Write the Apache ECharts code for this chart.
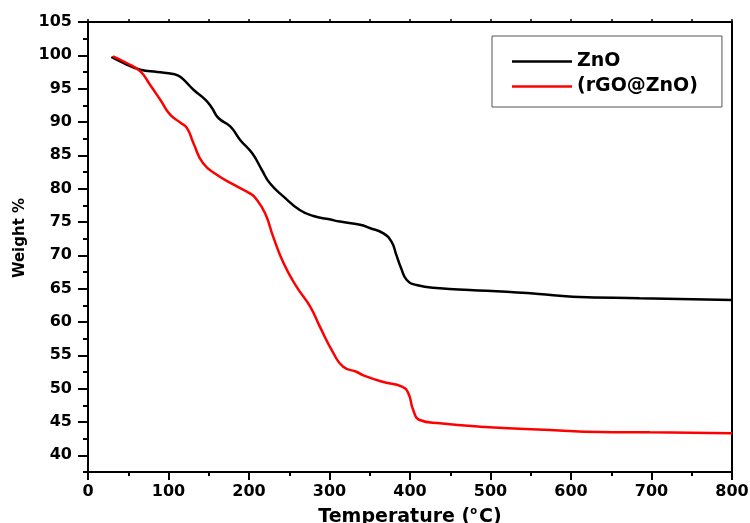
<!DOCTYPE html>
<html>
<head>
<meta charset="utf-8">
<script src="https://cdn.jsdelivr.net/npm/echarts@6/dist/echarts.min.js"></script>
<style>
  html, body { margin: 0; padding: 0; background: #fff; }
  #chart { width: 750px; height: 523px; }
</style>
</head>
<body>
<div id="chart"></div>
<script>
  // TGA data
  const tempZnO = [29, 45, 65, 86, 106, 115, 131, 146, 154, 162, 177, 189, 204, 216, 226, 243, 263, 280, 300, 313, 338, 350, 367, 377, 383, 389, 396, 408, 437, 474, 520, 560, 602, 685, 800];
  const weightZnO = [99.75, 98.8, 97.84, 97.5, 97.2, 96.74, 94.84, 93.33, 92.1, 90.6, 89.3, 87.3, 85.3, 82.8, 80.8, 78.8, 76.8, 75.9, 75.4, 75.06, 74.6, 74.1, 73.3, 72.06, 70.06, 68.06, 66.3, 65.55, 65.06, 64.8, 64.55, 64.2, 63.8, 63.56, 63.3];

  const tempRgo = [31, 48, 65, 77, 90, 102, 115, 123, 131, 143, 160, 181, 201, 208, 220, 230, 243, 259, 276, 288, 305, 317, 334, 342, 367, 390, 398, 404, 412, 437, 487, 574, 636, 698, 800];
  const weightRgo = [99.85, 98.85, 97.6, 95.6, 93.3, 91.1, 89.9, 89.08, 86.8, 83.8, 82.1, 80.6, 79.3, 78.6, 76.3, 72.8, 68.8, 65.3, 62.3, 59.3, 55.3, 53.3, 52.5, 52.0, 51.0, 50.3, 49.3, 46.8, 45.3, 44.8, 44.3, 43.8, 43.5, 43.45, 43.3];

  const seriesNames = ['ZnO', '(rGO@ZnO)'];
  const xMajor = [0, 100, 200, 300, 400, 500, 600, 700, 800];
  const xMinor = [50, 150, 250, 350, 450, 550, 650, 750];
  const yMajor = [40, 45, 50, 55, 60, 65, 70, 75, 80, 85, 90, 95, 100, 105];
  const yMinor = [37.5, 42.5, 47.5, 52.5, 57.5, 62.5, 67.5, 72.5, 77.5, 82.5, 87.5, 92.5, 97.5, 102.5];

  function pairs(xs, ys) {
    let out = [];
    for (let i = 0; i < xs.length; i++) out.push([xs[i], ys[i]]);
    return out;
  }

  let myChart = echarts.init(document.getElementById('chart'));
  const font = 'DejaVu Sans';
  const labelStyle = { color: '#000', fontFamily: font, fontWeight: 'bold', fontSize: 16 };

  let option = {
    animation: false,
    grid: {
      left: 88, right: 18, top: 22, bottom: 51,
      outerBoundsMode: 'none',
      show: true, borderColor: '#000', borderWidth: 2
    },
    legend: {
      orient: 'vertical',
      left: 492, top: 36,
      padding: [16, 24, 11, 20],
      icon: 'rect',
      itemWidth: 60, itemHeight: 2.5, itemGap: 6,
      borderColor: '#555', borderWidth: 1,
      data: seriesNames,
      textStyle: { color: '#000', fontFamily: font, fontWeight: 'bold', fontSize: 19 }
    },
    xAxis: [{
      type: 'value', min: 0, max: 800,
      name: 'Temperature ({sup|o}C)',
      nameLocation: 'middle', nameGap: 34,
      nameTextStyle: {
        color: '#000', fontFamily: font, fontWeight: 'bold', fontSize: 19,
        rich: { sup: { fontFamily: font, fontSize: 10, padding: [0, 2, 12, 0], color: '#000' } }
      },
      axisLine: { show: true, onZero: false, lineStyle: { color: '#000', width: 2 } },
      axisTick: { show: true, length: 8, customValues: xMajor, lineStyle: { color: '#000', width: 2 } },
      axisLabel: Object.assign({ margin: 12, customValues: xMajor }, labelStyle),
      splitLine: { show: false }
    }, {
      // minor ticks on the bottom
      type: 'value', min: 0, max: 800, position: 'bottom',
      axisLine: { show: false },
      axisTick: { show: true, length: 4, customValues: xMinor, lineStyle: { color: '#000', width: 2 } },
      axisLabel: { show: false },
      splitLine: { show: false }
    }, {
      // little ticks on top
      type: 'value', min: 0, max: 800, position: 'top',
      axisLine: { show: false },
      axisTick: { show: true, length: 3, customValues: xMajor.concat(xMinor), lineStyle: { color: '#000', width: 1.5 } },
      axisLabel: { show: false },
      splitLine: { show: false }
    }],
    yAxis: [{
      type: 'value', min: 37.5, max: 105,
      name: 'Weight %',
      nameLocation: 'middle', nameGap: 60, nameRotate: 90,
      nameTextStyle: { color: '#000', fontFamily: font, fontWeight: 'bold', fontSize: 15, padding: [0, 0, 0, 18] },
      axisLine: { show: true, onZero: false, lineStyle: { color: '#000', width: 2 } },
      axisTick: { show: true, length: 10, customValues: yMajor, lineStyle: { color: '#000', width: 2 } },
      axisLabel: Object.assign({ margin: 16, customValues: yMajor }, labelStyle),
      splitLine: { show: false }
    }, {
      type: 'value', min: 37.5, max: 105, position: 'left',
      axisLine: { show: false },
      axisTick: { show: true, length: 5, customValues: yMinor, lineStyle: { color: '#000', width: 2 } },
      axisLabel: { show: false },
      splitLine: { show: false }
    }],
    series: [{
      name: seriesNames[0],
      type: 'line',
      data: pairs(tempZnO, weightZnO),
      smooth: 0.5,
      symbol: 'none',
      lineStyle: { color: '#000', width: 2.5 },
      itemStyle: { color: '#000' }
    }, {
      name: seriesNames[1],
      type: 'line',
      data: pairs(tempRgo, weightRgo),
      smooth: 0.5,
      symbol: 'none',
      lineStyle: { color: '#ff0000', width: 2.5 },
      itemStyle: { color: '#ff0000' }
    }]
  };

  myChart.setOption(option);
</script>
</body>
</html>
